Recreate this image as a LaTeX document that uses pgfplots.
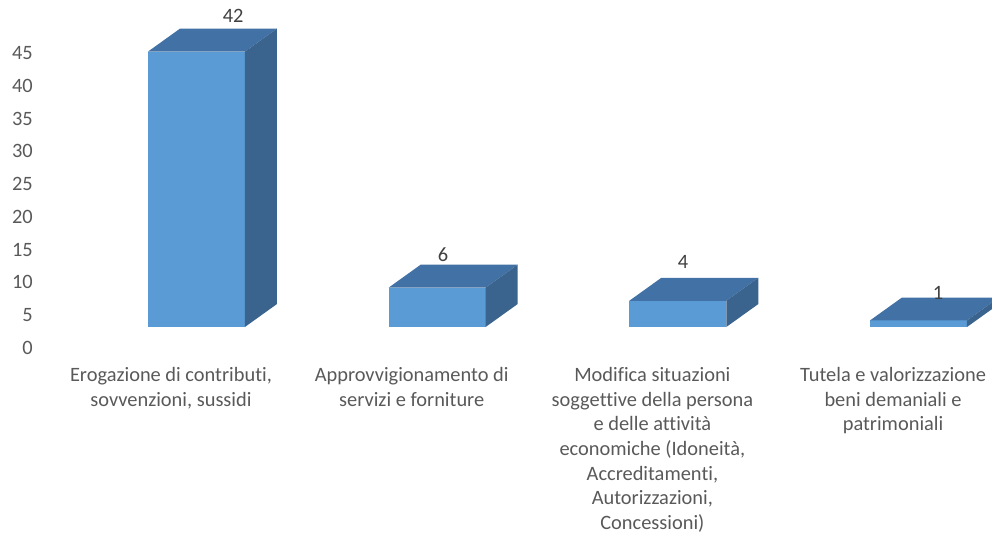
\documentclass[border=0pt]{standalone}
\usepackage{pgfplots}
\pgfplotsset{compat=1.18}
\usepackage{fontspec}
\setmainfont[RawFeature={-liga}]{Carlito}

\definecolor{frontc}{RGB}{91,155,213}
\definecolor{topc}{RGB}{66,114,165}
\definecolor{sidec}{RGB}{58,99,141}
\definecolor{axistext}{RGB}{89,89,89}
\definecolor{datatext}{RGB}{64,64,64}

\newcommand{\chartfont}{\fontsize{15.3}{18.5}\selectfont}

% floor of the 3-D bars and depth offsets (axis units)
\newcommand{\bbase}{3.2}
\newcommand{\bdepth}{3.5}

% #1 = category position, #2 = value
\newcommand{\barthreed}[2]{%
  \pgfmathsetmacro{\bxl}{#1-0.096}%
  \pgfmathsetmacro{\bxr}{#1+0.307}%
  \pgfmathsetmacro{\bxbl}{#1+0.037}%
  \pgfmathsetmacro{\bxbr}{#1+0.44}%
  \pgfmathsetmacro{\byt}{\bbase+#2}%
  \pgfmathsetmacro{\bybb}{\bbase+\bdepth}%
  \pgfmathsetmacro{\bybt}{\bbase+\bdepth+#2}%
  \edef\doplot{%
    \noexpand\addplot[fill=frontc, draw=none] coordinates
      {(\bxl,\bbase) (\bxr,\bbase) (\bxr,\byt) (\bxl,\byt)};
    \noexpand\addplot[fill=topc, draw=none] coordinates
      {(\bxl,\byt) (\bxbl,\bybt) (\bxbr,\bybt) (\bxr,\byt)};
    \noexpand\addplot[fill=sidec, draw=none] coordinates
      {(\bxr,\bbase) (\bxbr,\bybb) (\bxbr,\bybt) (\bxr,\byt)};
  }%
  \doplot
}

\begin{document}
\begin{tikzpicture}
\begin{axis}[
    scale only axis,
    width=744pt, height=403.5pt,
    xmin=-0.7104, xmax=3.411,
    ymin=-28.98, ymax=53.08,
    axis line style={draw=none},
    major tick length=0pt,
    tick style={draw=none},
    ytick={0,5,...,45},
    xtick={0,1,2,3},
    xticklabels={
      {Erogazione di contributi,\\sovvenzioni, sussidi},
      {Approvvigionamento di\\servizi e forniture},
      {Modifica situazioni\\soggettive della persona\\e delle attività\\economiche (Idoneità,\\Accreditamenti,\\Autorizzazioni,\\Concessioni)},
      {Tutela e valorizzazione\\beni demaniali e\\patrimoniali}
    },
    xticklabel style={align=center, anchor=north, inner sep=0pt, yshift=128.25pt},
    yticklabel style={anchor=east, inner sep=0pt, xshift=24.75pt},
    /pgf/number format/assume math mode=true,
    ticklabel style={font=\chartfont, text=axistext},
]
\barthreed{0}{42}
\barthreed{1}{6}
\barthreed{2}{4}
\barthreed{3}{1}
\addplot[draw=none, mark=none, nodes near coords, point meta=explicit symbolic,
    nodes near coords style={anchor=center, font=\chartfont, text=datatext}]
  coordinates {(0.258,50.6)[42] (1.13,14.2)[6] (2.127,13.1)[4] (3.187,8.4)[1]};
\end{axis}
\pgfresetboundingbox
\useasboundingbox (current axis.south west) rectangle (current axis.north east);
\end{tikzpicture}
\end{document}
